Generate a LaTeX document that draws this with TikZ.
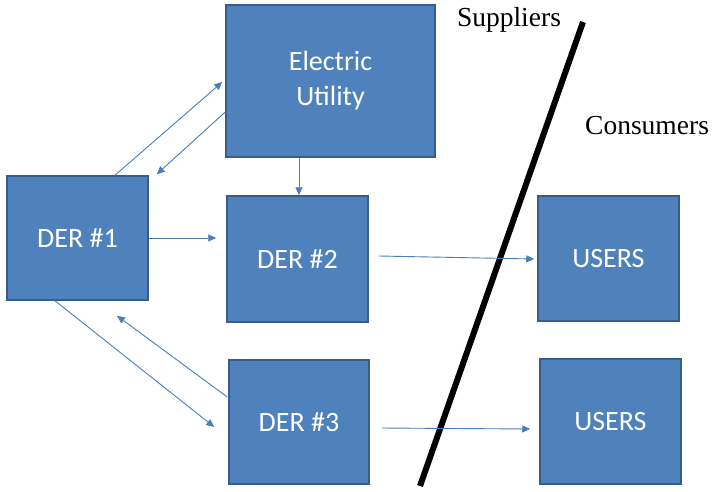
\documentclass[tikz,border=0pt]{standalone}
\usepackage{fontspec}
\setmainfont{Liberation Serif}
\newfontfamily\boxfont{Carlito}
\usetikzlibrary{arrows.meta,calc}
\definecolor{boxfill}{RGB}{79,129,189}
\definecolor{boxline}{RGB}{56,93,138}
\definecolor{arrcol}{RGB}{74,126,187}
\tikzset{
  blk/.style={draw=boxline, fill=boxfill, line width=1.5pt, inner sep=0pt,
    text=white, font=\boxfont\fontsize{28}{35}\selectfont, align=center},
  arr/.style={draw=arrcol, line width=0.9pt, -{Triangle[length=8pt,width=7pt]}},
  lbl/.style={font=\fontsize{27.5}{32}\selectfont, inner sep=0pt},
}
\begin{document}
\begin{tikzpicture}[x=1pt,y=-1pt]
\useasboundingbox[fill=white] (0,0) rectangle (715,491);
\node[blk, minimum width=209pt, minimum height=152pt] (eu) at (330.5,81) {Electric\\Utility};
\node[blk, minimum width=141pt, minimum height=124pt] (d1) at (77.5,238) {DER \#1};
\node[blk, minimum width=141pt, minimum height=126pt] (d2) at (297.5,259) {DER \#2};
\node[blk, minimum width=140pt, minimum height=124pt] (d3) at (299,422) {DER \#3};
\node[blk, minimum width=141pt, minimum height=125pt] (u1) at (608.5,258.5) {USERS};
\node[blk, minimum width=141pt, minimum height=125pt] (u2) at (610.5,421.5) {USERS};
\node[lbl, anchor=base] (sup) at (509,26) {Suppliers};
\node[lbl, anchor=base west] (con) at (585,134) {Consumers};
\coordinate (divtop) at (583,22);
\coordinate (divbot) at (420,486);
\draw[line width=6pt, black] (divtop) -- (divbot);
% connectors
\draw[arr] ($(d1.north)+(37.5,0)$) -- ($(eu.west)+(-3,1)$);
\draw[arr] ($(eu.west)+(0,31)$) -- ($(d1.north east)+(8,-1)$);
\draw[arr] ($(eu.south)+(-31.5,0)$) -- ($(d2.north)+(1.5,0)$);
\draw[arr] (d1.east) -- ($(d2.west |- d1.east)+(-10,0)$);
\draw[arr] ($(d2.east)+(10,-3)$) -- ($(u1.west)+(-3,0.5)$);
\draw[arr] ($(d1.south)+(-22.5,0)$) -- ($(d3.west)+(-14,5)$);
\draw[arr] ($(d3.west)+(-1,-25)$) -- ($(d1.south)+(39.5,15)$);
\draw[arr] ($(d3.east)+(12,6)$) -- ($(u2.west)+(-9,7.5)$);
\end{tikzpicture}
\end{document}
